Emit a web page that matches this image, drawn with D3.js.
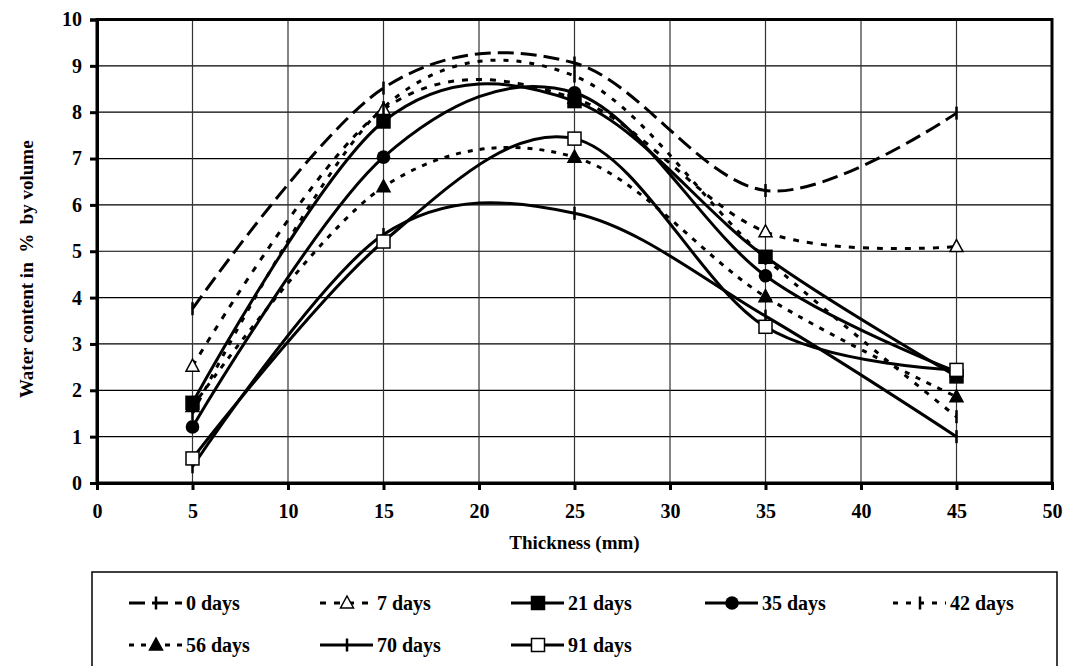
<!DOCTYPE html>
<html>
<head>
<meta charset="utf-8">
<script src="https://cdn.jsdelivr.net/npm/d3@7"></script>
<style>
  html, body { margin: 0; padding: 0; background: #fff; }
  svg { display: block; }
  text { font-family: "Liberation Serif", "Times New Roman", serif; font-weight: bold; fill: #000; }
</style>
</head>
<body>
<svg id="chart" width="1067" height="666"></svg>
<script>
// Measurement depths (mm)
const thickness = [5, 15, 25, 35, 45];

// Water content (% by volume) for each curing age
const days0  = [3.76, 8.52, 9.06, 6.31, 7.98];
const days7  = [2.52, 8.06, 8.30, 5.42, 5.10];
const days21 = [1.73, 7.80, 8.24, 4.88, 2.30];
const days35 = [1.21, 7.03, 8.42, 4.47, 2.40];
const days42 = [1.50, 8.10, 8.78, 4.85, 1.43];
const days56 = [1.65, 6.39, 7.03, 4.02, 1.86];
const days70 = [0.35, 5.36, 5.82, 3.60, 1.00];
const days91 = [0.53, 5.21, 7.43, 3.37, 2.44];

const seriesNames = ["0 days", "7 days", "21 days", "35 days", "42 days", "56 days", "70 days", "91 days"];
const xTicks = [0, 5, 10, 15, 20, 25, 30, 35, 40, 45, 50];
const yTicks = [0, 1, 2, 3, 4, 5, 6, 7, 8, 9, 10];

const xTitle = "Thickness (mm)";
const yTitle = "Water content in\u00a0\u00a0%\u00a0\u00a0by volume";

// Line dash and marker style per series
const styles = [
  { values: days0,  dash: "16,7", marker: "bar" },
  { values: days7,  dash: "6,8",  marker: "triangleOpen" },
  { values: days21, dash: null,   marker: "square" },
  { values: days35, dash: null,   marker: "circle" },
  { values: days42, dash: "5,8",  marker: "bar" },
  { values: days56, dash: "5,7",  marker: "triangle" },
  { values: days70, dash: null,   marker: "bar" },
  { values: days91, dash: null,   marker: "squareOpen" }
];

const svg = d3.select("#chart");
const plot = { left: 97, right: 1052, top: 19.5, bottom: 483 };

const x = d3.scaleLinear().domain([0, 50]).range([plot.left, plot.right]);
const y = d3.scaleLinear().domain([0, 10]).range([plot.bottom, plot.top]);

// Grid
const grid = svg.append("g");
grid.selectAll("line.h").data(yTicks.slice(1, -1)).join("line")
  .attr("x1", plot.left).attr("x2", plot.right)
  .attr("y1", d => y(d)).attr("y2", d => y(d))
  .attr("stroke", "#000").attr("stroke-width", 1.2);
grid.selectAll("line.v").data(xTicks.slice(1, -1)).join("line")
  .attr("y1", plot.top).attr("y2", plot.bottom)
  .attr("x1", d => x(d)).attr("x2", d => x(d))
  .attr("stroke", "#333").attr("stroke-width", 1.2);

// Frame
svg.append("rect")
  .attr("x", plot.left).attr("y", plot.top)
  .attr("width", plot.right - plot.left).attr("height", plot.bottom - plot.top)
  .attr("fill", "none").attr("stroke", "#000").attr("stroke-width", 3);

// Axes
const xAxis = svg.append("g")
  .attr("transform", `translate(0,${plot.bottom})`)
  .call(d3.axisBottom(x).tickValues(xTicks).tickSize(7).tickPadding(14).tickFormat(d3.format("d")));
const yAxis = svg.append("g")
  .attr("transform", `translate(${plot.left},0)`)
  .call(d3.axisLeft(y).tickValues(yTicks).tickSize(7).tickPadding(8).tickFormat(d3.format("d")));
[xAxis, yAxis].forEach(a => {
  a.select(".domain").attr("stroke-width", 3);
  a.selectAll(".tick line").attr("stroke-width", 3);
  a.selectAll(".tick text").style("font-size", "20px").style("font-family", "'Liberation Serif', serif").style("font-weight", "bold");
});

// Axis titles
svg.append("text")
  .attr("x", (plot.left + plot.right) / 2).attr("y", 549)
  .attr("text-anchor", "middle").style("font-size", "19px")
  .text(xTitle);
svg.append("text")
  .attr("transform", `translate(33,${(plot.top + plot.bottom) / 2 + 18}) rotate(-90)`)
  .attr("text-anchor", "middle").style("font-size", "19px")
  .text(yTitle);

// Marker drawing
function drawMarker(g, type, cx, cy) {
  const s = 13;
  if (type === "bar") {
    g.append("line").attr("x1", cx).attr("x2", cx).attr("y1", cy - 6.5).attr("y2", cy + 6.5)
      .attr("stroke", "#000").attr("stroke-width", 2.5);
  } else if (type === "square" || type === "squareOpen") {
    g.append("rect").attr("x", cx - s / 2).attr("y", cy - s / 2).attr("width", s).attr("height", s)
      .attr("fill", type === "square" ? "#000" : "#fff").attr("stroke", "#000").attr("stroke-width", 1.5);
  } else if (type === "circle") {
    g.append("circle").attr("cx", cx).attr("cy", cy).attr("r", 6.8).attr("fill", "#000");
  } else {
    const h = 12, w = 13;
    g.append("path")
      .attr("d", `M${cx},${cy - h / 2 - 1}L${cx + w / 2},${cy + h / 2 - 1}L${cx - w / 2},${cy + h / 2 - 1}Z`)
      .attr("fill", type === "triangle" ? "#000" : "#fff").attr("stroke", "#000").attr("stroke-width", 1.5);
  }
}

// Smoothed series curves
const line = d3.line()
  .x((d, i) => x(thickness[i]))
  .y(d => y(d))
  .curve(d3.curveCardinal.tension(0));

const lines = svg.append("g");
styles.forEach(st => {
  lines.append("path")
    .attr("d", line(st.values))
    .attr("fill", "none").attr("stroke", "#000").attr("stroke-width", 3)
    .attr("stroke-dasharray", st.dash);
});
const marks = svg.append("g");
styles.forEach(st => {
  st.values.forEach((v, i) => drawMarker(marks, st.marker, x(thickness[i]), y(v)));
});

// Legend
const legend = svg.append("g");
legend.append("rect")
  .attr("x", 92).attr("y", 572).attr("width", 1057 - 92).attr("height", 110)
  .attr("fill", "#fff").attr("stroke", "#000").attr("stroke-width", 1.5);
const colText = [186, 377, 568, 762, 950];
const rowY = [603, 645];
seriesNames.forEach((name, i) => {
  const col = i % 5, row = Math.floor(i / 5);
  const tx = colText[col], ty = rowY[row];
  const mx = tx - 30;
  const st = styles[i];
  legend.append("line")
    .attr("x1", mx - 27).attr("x2", mx + 26).attr("y1", ty).attr("y2", ty)
    .attr("stroke", "#000").attr("stroke-width", 3)
    .attr("stroke-dasharray", st.dash);
  drawMarker(legend, st.marker, mx, ty);
  legend.append("text")
    .attr("x", tx).attr("y", ty + 7).style("font-size", "20px")
    .text(name);
});
</script>
</body>
</html>
